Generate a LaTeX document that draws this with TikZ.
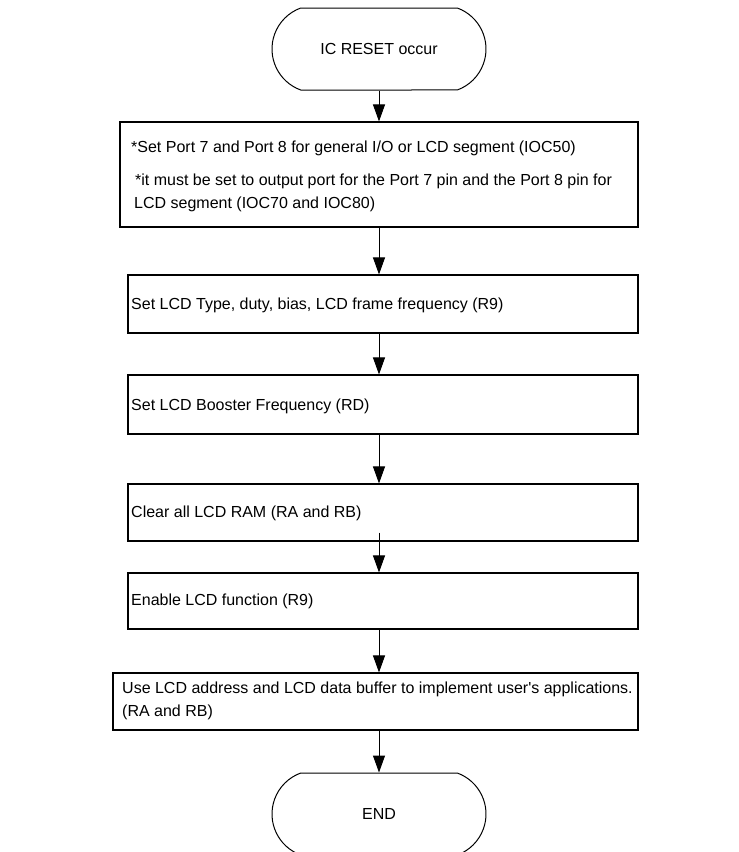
\documentclass[tikz,border=0pt]{standalone}
\usepackage{fontspec}
\setmainfont{Liberation Sans}
\usetikzlibrary{arrows.meta,shapes.misc}
\begin{document}
\begin{tikzpicture}[x=1pt,y=-1pt,
  every node/.style={font=\fontsize{16}{19}\selectfont},
  terminal/.style={draw,line width=1pt,rounded rectangle,rounded rectangle arc length=140,minimum width=214pt,minimum height=82pt,inner sep=0pt},
  stepbox/.style={draw,line width=1.1pt,rectangle,inner sep=0pt},
  txt/.style={anchor=west,inner sep=0pt,text height=11.5pt,text depth=0pt},
  arr/.style={line width=1pt,-{Triangle[length=17pt,width=12pt]}}]
\useasboundingbox (0,0) rectangle (739,852);
% terminals
\node[terminal] (start) at (379,49) {IC RESET occur};
\node[terminal] (stop) at (379,814) {END};
% boxes
\node[stepbox,minimum width=518pt,minimum height=105pt] (b1) at (379,174.5) {};
\node[stepbox,minimum width=510pt,minimum height=58pt] (b2) at (383,304) {};
\node[stepbox,minimum width=510pt,minimum height=59pt] (b3) at (383,404.5) {};
\node[stepbox,minimum width=510pt,minimum height=57pt] (b4) at (383,512.5) {};
\node[stepbox,minimum width=510pt,minimum height=56pt] (b5) at (383,601) {};
\node[stepbox,minimum width=525pt,minimum height=57pt] (b6) at (375.5,701.5) {};
% texts
\node[txt] (t1a) at (131,147) {*Set Port 7 and Port 8 for general I/O or LCD segment (IOC50)};
\node[txt] (t1b) at (135,180) {*it must be set to output port for the Port 7 pin and the Port 8 pin for};
\node[txt] (t1c) at (134,203) {LCD segment (IOC70 and IOC80)};
\node[txt] (t2) at (131,304) {Set LCD Type, duty, bias, LCD frame frequency (R9)};
\node[txt] (t3) at (131,405) {Set LCD Booster Frequency (RD)};
\node[txt] (t4) at (131,512) {Clear all LCD RAM (RA and RB)};
\node[txt] (t5) at (131,600) {Enable LCD function (R9)};
\node[txt] (t6a) at (122,688) {Use LCD address and LCD data buffer to implement user\textquotesingle s applications.};
\node[txt] (t6b) at (122,711) {(RA and RB)};
% arrows
\coordinate (ax) at (start.south);
\draw[arr] (start.south) -- (ax |- b1.north);
\draw[arr] (ax |- b1.south) -- (ax |- b2.north);
\draw[arr] (ax |- b2.south) -- (ax |- b3.north);
\draw[arr] (ax |- b3.south) -- (ax |- b4.north);
\draw[arr] ([yshift=9pt]ax |- b4.south) -- (ax |- b5.north);
\draw[arr] (ax |- b5.south) -- (ax |- b6.north);
\draw[arr] (ax |- b6.south) -- (stop.north);
\end{tikzpicture}
\end{document}
